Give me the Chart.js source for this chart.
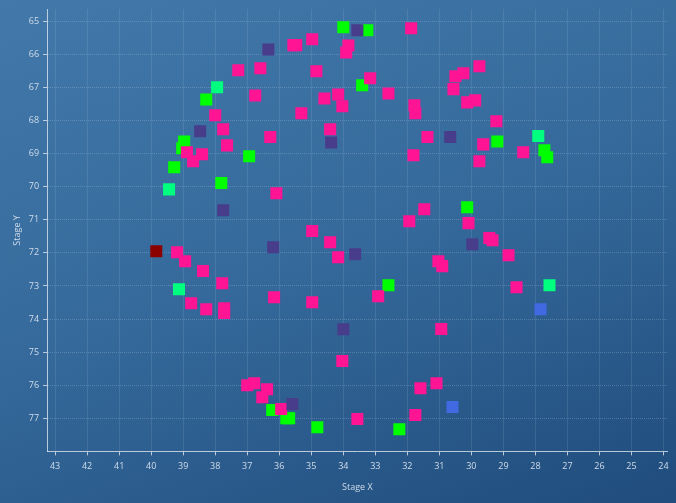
<!DOCTYPE html>
<html><head><meta charset="utf-8">
<script src="https://cdn.jsdelivr.net/npm/chart.js@4"></script>
<style>
html,body{margin:0;padding:0;width:676px;height:503px;overflow:hidden;background:linear-gradient(160deg,#4279aa 0%,#35699b 50%,#1f4c7c 100%);}
#w{position:absolute;left:0;top:0;width:676px;height:503px;}
</style></head><body><div id="w"><canvas id="c"></canvas></div>
<script>
const xTicks=[43,42,41,40,39,38,37,36,35,34,33,32,31,30,29,28,27,26,25,24];
const yTicks=[65,66,67,68,69,70,71,72,73,74,75,76,77];
const pinkX=[31.88,35.47,35.56,34.97,37.28,36.59,34.84,36.75,38.0,33.91,33.84,33.16,34.59,34.16,35.31,32.59,31.78,31.75,34.03,34.41,31.37,30.5,30.25,29.75,30.56,30.13,29.88,29.22,29.63,28.38,29.75,37.75,37.63,36.28,31.81,38.88,38.41,38.69,36.09,31.47,31.94,34.97,34.41,34.16,39.19,38.94,38.38,37.78,30.09,29.34,29.44,28.84,28.59,31.03,30.91,36.16,34.97,32.91,38.75,38.28,37.72,37.72,30.94,34.03,37.0,36.78,36.38,36.53,35.94,33.56,31.75,31.59,31.09];
const pinkY=[65.21,65.72,65.72,65.54,66.48,66.42,66.51,67.24,67.84,65.94,65.73,66.72,67.33,67.21,67.78,67.18,67.54,67.78,67.57,68.26,68.5,66.66,66.57,66.36,67.05,67.45,67.39,68.02,68.72,68.96,69.23,68.26,68.75,68.5,69.05,68.96,69.02,69.23,70.2,70.68,71.04,71.34,71.68,72.13,71.98,72.25,72.55,72.92,71.1,71.62,71.55,72.07,73.04,72.25,72.4,73.34,73.49,73.31,73.52,73.7,73.67,73.82,74.3,75.27,76.0,75.94,76.12,76.36,76.72,77.02,76.9,76.09,75.94];
const greenX=[34.0,33.25,38.28,33.41,38.97,39.03,36.94,39.28,37.81,30.13,32.59,29.19,27.72,27.63,36.22,35.78,35.69,34.81,32.25];
const greenY=[65.18,65.27,67.36,66.93,68.63,68.84,69.08,69.41,69.89,70.62,72.98,68.63,68.9,69.11,76.75,77.0,77.0,77.27,77.33];
const springX=[37.94,39.44,39.13,27.56,27.91];
const springY=[66.99,70.08,73.1,72.98,68.47];
const slateX=[33.56,36.34,38.47,34.38,30.66,37.75,36.19,33.63,29.97,34.0,35.59];
const slateY=[65.27,65.85,68.32,68.66,68.5,70.71,71.83,72.04,71.74,74.31,76.57];
const blueX=[27.84,30.59];
const blueY=[73.7,76.66];
const redX=[39.84];
const redY=[71.95];
const pts=(xs,ys)=>xs.map((x,i)=>({x:x,y:ys[i]}));
const ds=(xs,ys,col)=>({data:pts(xs,ys),backgroundColor:col,borderWidth:0,pointStyle:'rect',pointRadius:8.5,pointHoverRadius:8.5});
const grid={color:'rgba(200,220,240,0.25)',lineWidth:1,tickLength:4,tickColor:'rgba(220,230,240,0.8)'};
new Chart(document.getElementById('c'),{type:'scatter',
data:{datasets:[ds(slateX,slateY,'#483d8b'),ds(pinkX,pinkY,'#ff1493'),ds(greenX,greenY,'#00ff00'),ds(springX,springY,'#00ff7f'),ds(blueX,blueY,'#4169e1'),ds(redX,redY,'#8b0000')]},
options:{responsive:true,maintainAspectRatio:false,animation:false,
layout:{padding:{top:8,right:0,left:8,bottom:6}},
plugins:{legend:{display:false},tooltip:{enabled:false}},
scales:{
x:{type:'linear',reverse:true,min:23.875,max:43.25,
afterBuildTicks:a=>{a.ticks=xTicks.map(v=>({value:v}));},
grid:grid,border:{color:'rgba(220,230,240,0.8)',dash:[1,1]},
ticks:{color:'#d0dcea',font:{family:'Open Sans',size:9},padding:6,maxRotation:0},
title:{display:true,text:'Stage X',color:'#d0dcea',font:{family:'Open Sans',size:9},padding:{top:4}}},
y:{type:'linear',reverse:true,min:64.64,max:78,
afterBuildTicks:a=>{a.ticks=yTicks.map(v=>({value:v}));},
grid:grid,border:{color:'rgba(220,230,240,0.8)',dash:[1,1]},
ticks:{color:'#d0dcea',font:{family:'Open Sans',size:9},padding:4},
title:{display:true,text:'Stage Y',color:'#d0dcea',font:{family:'Open Sans',size:9},padding:{bottom:2}}}
}}});
</script></body></html>
